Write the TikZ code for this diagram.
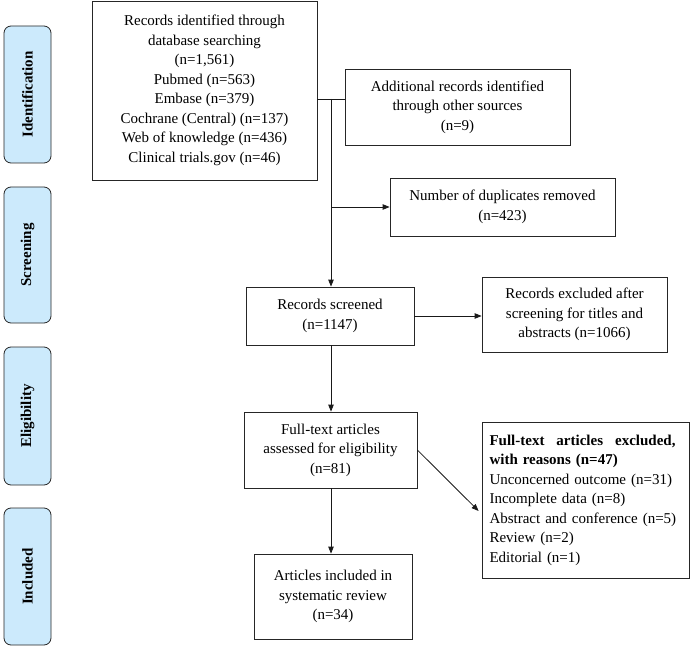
\documentclass[tikz,border=0pt]{standalone}
\usepackage{fontspec}
\setmainfont{Liberation Serif}
\usetikzlibrary{arrows.meta}
\definecolor{sidefill}{RGB}{204,234,252}
\begin{document}
\begin{tikzpicture}[x=1pt,y=-1pt,
  txt/.style={font=\fontsize{15}{19.5}\selectfont},
  box/.style={txt,draw=black!85,line width=0.8pt,rectangle,inner sep=0pt,align=center},
  side/.style={draw=black!85,line width=0.8pt,fill=sidefill,rounded corners=7pt,inner sep=0pt,minimum width=47pt},
  sidelabel/.style={font=\fontsize{15}{18}\selectfont\bfseries,rotate=90},
  conn/.style={line width=0.8pt,draw=black!90},
  arr/.style={conn,-{Triangle[length=7pt,width=5.5pt]}}]
\useasboundingbox (0,0) rectangle (690,647);
% side stage boxes
\node[side,minimum height=137pt] (sid) at (27.5,94.5) {};
\node[sidelabel] at (sid) {Identification};
\node[side,minimum height=136pt] (sscr) at (27.5,255) {};
\node[sidelabel] at (sscr) {Screening};
\node[side,minimum height=138pt] (selig) at (27.5,416) {};
\node[sidelabel] at (selig) {Eligibility};
\node[side,minimum height=137pt] (sinc) at (27.5,576.5) {};
\node[sidelabel] at (sinc) {Included};
% main boxes
\node[box,minimum width=225pt,minimum height=179pt] (b1) at (204.5,90.5)
  {Records identified through\\database searching\\(n=1,561)\\Pubmed (n=563)\\Embase (n=379)\\Cochrane (Central) (n=137)\\Web of knowledge (n=436)\\Clinical trials.gov (n=46)};
\node[box,minimum width=225pt,minimum height=76pt] (b2) at (457.5,107)
  {Additional records identified\\through other sources\\(n=9)};
\node[box,minimum width=225pt,minimum height=58pt] (b3) at (502.5,207)
  {Number of duplicates removed\\(n=423)};
\node[box,minimum width=168pt,minimum height=58pt] (b4) at (330,316)
  {Records screened\\(n=1147)};
\node[box,minimum width=185pt,minimum height=75pt] (b5) at (574.5,314.5)
  {Records excluded after\\screening for titles and\\abstracts (n=1066)};
\node[box,minimum width=173pt,minimum height=76pt] (b6) at (330.5,450)
  {Full-text articles\\assessed for eligibility\\(n=81)};
\node[box,text width=192pt,inner xsep=7.5pt,minimum height=156pt,align=left] (b7) at (585.5,500)
  {\textbf{\hbox to 186pt{Full-text\hfill articles\hfill excluded,}}\\\textbf{with reasons (n=47)}\\Unconcerned outcome (n=31)\\Incomplete data (n=8)\\Abstract and conference (n=5)\\Review (n=2)\\Editorial (n=1)};
\node[box,minimum width=158pt,minimum height=85pt] (b8) at (333,596.5)
  {Articles included in\\systematic review\\(n=34)};
% connectors
\coordinate (j) at (331,99);
\draw[conn] (b1.east |- j) -- (b2.west |- j);
\draw[arr] (j) -- (j |- b4.north);
\draw[arr] (j |- b3.west) -- (b3.west);
\draw[arr] (b4.east) -- (b4.east -| b5.west);
\draw[arr] (b4.south -| j) -- (j |- b6.north);
\draw[arr] (b6.east) -- ([xshift=-3pt,yshift=-11pt]b7.west);
\draw[arr] (b6.south -| j) -- (j |- b8.north);
\end{tikzpicture}
\end{document}
